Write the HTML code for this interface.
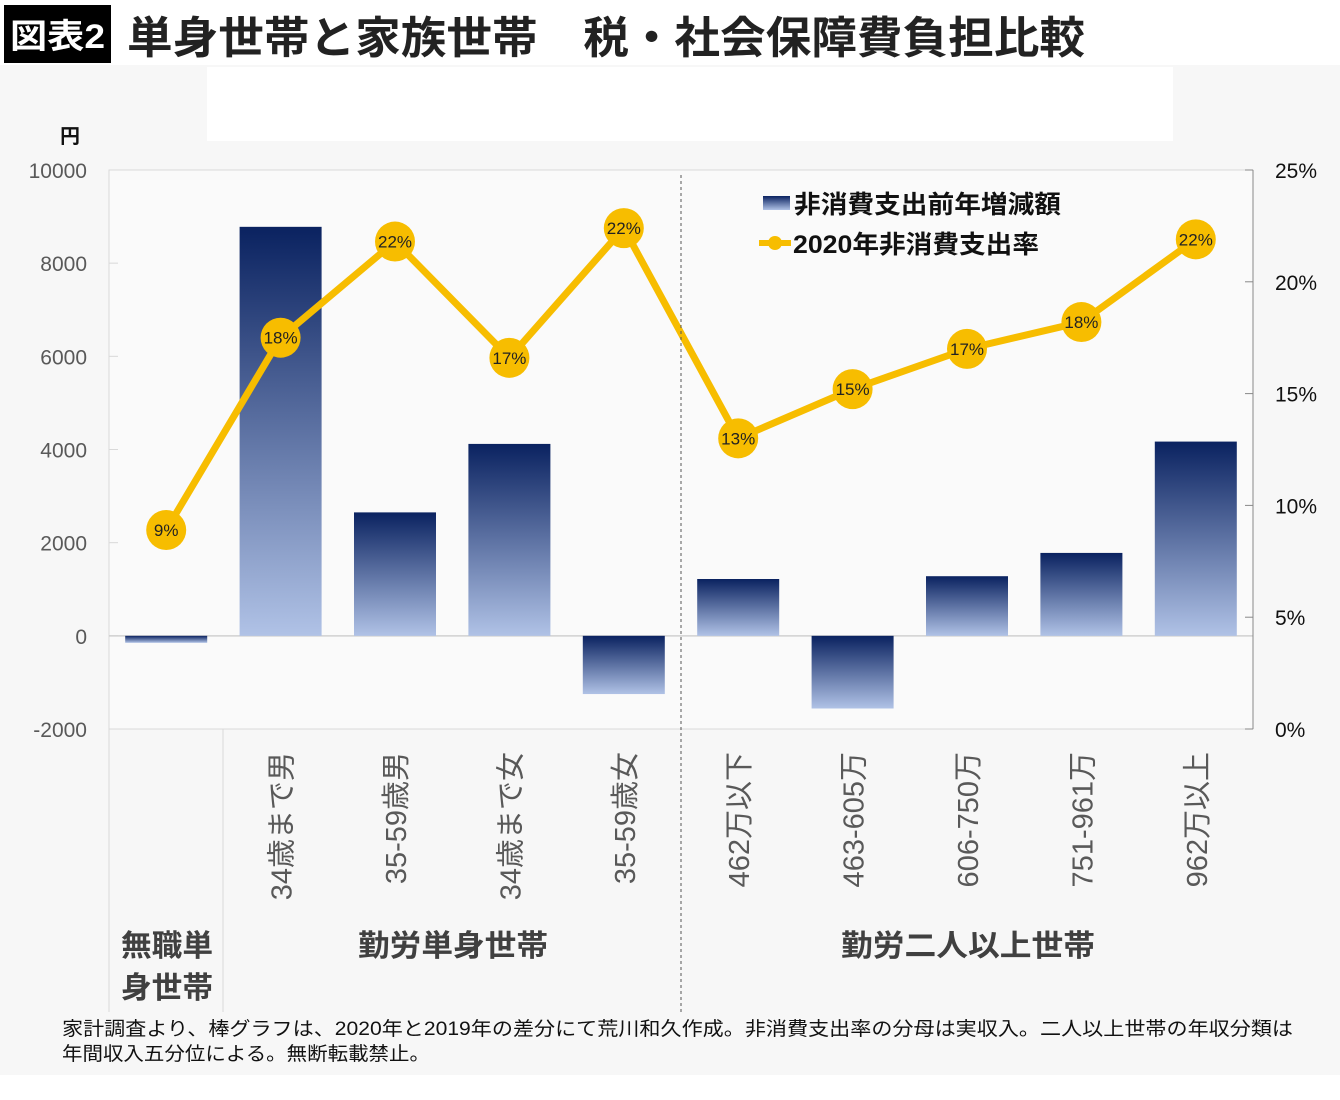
<!DOCTYPE html>
<html><head><meta charset="utf-8">
<style>
body{margin:0;background:#fff;}
svg{display:block;font-family:"Liberation Sans","Noto Sans CJK JP",sans-serif;}
</style></head>
<body>
<svg id="chart" width="1340" height="1100" viewBox="0 0 1340 1100">
<defs>
<linearGradient id="gpos" x1="0" y1="0" x2="0" y2="1">
<stop offset="0" stop-color="#0a2260"/><stop offset="1" stop-color="#b0c2e6"/></linearGradient>
</defs>
<rect x="0" y="65" width="1340" height="1010" fill="#f7f7f7"/>
<rect x="207" y="67" width="966" height="74" fill="#ffffff"/>
<rect x="4" y="5" width="107" height="58" fill="#000"/>
<text x="10" y="48" font-size="34" font-weight="bold" fill="#fff" textLength="95" lengthAdjust="spacingAndGlyphs">図表2</text>
<text x="127" y="53" font-size="44" font-weight="bold" fill="#222" textLength="958" lengthAdjust="spacingAndGlyphs">単身世帯と家族世帯　税・社会保障費負担比較</text>
<rect x="109" y="170" width="1144" height="559" fill="#fafafa" stroke="#d9d9d9" stroke-width="1"/>
<text x="70" y="143" text-anchor="middle" font-size="20" font-weight="bold" fill="#111">円</text>
<g id="axes"></g>
<g id="bars"></g>
<g id="line"></g>
<line x1="681" y1="175" x2="681" y2="1012" stroke="#555" stroke-dasharray="3,3"/>
<line x1="223" y1="729" x2="223" y2="1012" stroke="#d9d9d9"/>
<line x1="109" y1="729" x2="109" y2="1012" stroke="#d9d9d9"/>
<g>
<rect x="763" y="196" width="27" height="14" fill="url(#gpos)"/>
<text x="794" y="213" font-size="25" font-weight="bold" fill="#111" textLength="267" lengthAdjust="spacingAndGlyphs">非消費支出前年増減額</text>
<line x1="759" y1="243" x2="791" y2="243" stroke="#f7bd00" stroke-width="6"/>
<circle cx="775" cy="243" r="7" fill="#f7bd00"/>
<text x="793" y="253" font-size="25" font-weight="bold" fill="#111" textLength="246" lengthAdjust="spacingAndGlyphs">2020年非消費支出率</text>
</g>
<text x="121" y="956" font-size="30" font-weight="bold" fill="#404040" textLength="92" lengthAdjust="spacingAndGlyphs">無職単</text>
<text x="121" y="998" font-size="30" font-weight="bold" fill="#404040" textLength="92" lengthAdjust="spacingAndGlyphs">身世帯</text>
<text x="358" y="956" font-size="30" font-weight="bold" fill="#404040" textLength="190" lengthAdjust="spacingAndGlyphs">勤労単身世帯</text>
<text x="841" y="956" font-size="30" font-weight="bold" fill="#404040" textLength="254" lengthAdjust="spacingAndGlyphs">勤労二人以上世帯</text>
<text x="62" y="1035" font-size="19" fill="#111" textLength="1231" lengthAdjust="spacingAndGlyphs">家計調査より、棒グラフは、2020年と2019年の差分にて荒川和久作成。非消費支出率の分母は実収入。二人以上世帯の年収分類は</text>
<text x="62" y="1060" font-size="19" fill="#111" textLength="368" lengthAdjust="spacingAndGlyphs">年間収入五分位による。無断転載禁止。</text>
</svg>
<script>
const categories=["","34歳まで男","35-59歳男","34歳まで女","35-59歳女","462万以下","463-605万","606-750万","751-961万","962万以上"];
const barValues=[-150,8780,2650,4120,-1250,1220,-1560,1280,1780,4170];
const rateValues=[8.9,17.5,21.8,16.6,22.4,13.0,15.2,17.0,18.2,21.9];
const rateLabels=["9%","18%","22%","17%","22%","13%","15%","17%","18%","22%"];
const leftTicks=[-2000,0,2000,4000,6000,8000,10000];
const rightTicks=[0,5,10,15,20,25];
const NS="http://www.w3.org/2000/svg";
const X0=109,X1=1253,YT=170,YB=729;
const band=(X1-X0)/categories.length;
const xc=i=>X0+band*(i+0.5);
const yL=v=>YB-(v+2000)/12000*(YB-YT);
const yR=v=>YB-v/25*(YB-YT);
function mk(tag,attrs,parent){const e=document.createElementNS(NS,tag);for(const k in attrs)e.setAttribute(k,attrs[k]);parent.appendChild(e);return e;}
const axes=document.getElementById('axes'),bars=document.getElementById('bars'),line=document.getElementById('line');
leftTicks.forEach(t=>{
  const tx=mk('text',{x:87,y:yL(t)+8,'text-anchor':'end','font-size':21,fill:'#595959'},axes);
  tx.textContent=t;
  
  
  const tk=mk('line',{x1:109,x2:118,y1:yL(t),y2:yL(t),stroke:'#d9d9d9'},axes);
  
  
});
const zl=mk('line',{x1:X0,x2:X1,y1:yL(0),y2:yL(0),stroke:'#d0d0d0','stroke-width':1.5},axes);


const ra=mk('line',{x1:X1,x2:X1,y1:YT,y2:YB,stroke:'#888'},axes);


rightTicks.forEach(t=>{
  const tx=mk('text',{x:1275,y:yR(t)+8,'font-size':21,fill:'#111'},axes);
  tx.textContent=t+'%';
  
  
  const tk=mk('line',{x1:X1-8,x2:X1,y1:yR(t),y2:yR(t),stroke:'#888'},axes);
  
  
});
barValues.forEach((v,i)=>{
  const y0=yL(0),y1=yL(v);
  const r=mk('rect',{x:xc(i)-41,y:Math.min(y0,y1),width:82,height:Math.abs(y1-y0),fill:'url(#gpos)'},bars);
  
  
});
categories.forEach((c,i)=>{
  if(!c)return;
  const t=mk('text',{x:0,y:0,'font-size':29,fill:'#595959'},axes);
  t.setAttribute('transform',`translate(${xc(i)+11},752) rotate(-90)`);
  t.setAttribute('text-anchor','end');
  t.textContent=c;
  
  
});
const pts=rateValues.map((v,i)=>xc(i)+','+yR(v)).join(' ');
const pl=mk('polyline',{points:pts,fill:'none',stroke:'#f7bd00','stroke-width':7,'stroke-linejoin':'round'},line);


rateValues.forEach((v,i)=>{
  const c=mk('circle',{cx:xc(i),cy:yR(v),r:20,fill:'#f7bd00'},line);
  
  
  const t=mk('text',{x:xc(i),y:yR(v)+6,'text-anchor':'middle','font-size':17,fill:'#222'},line);
  t.textContent=rateLabels[i];
  
  
});
</script>
</body></html>
